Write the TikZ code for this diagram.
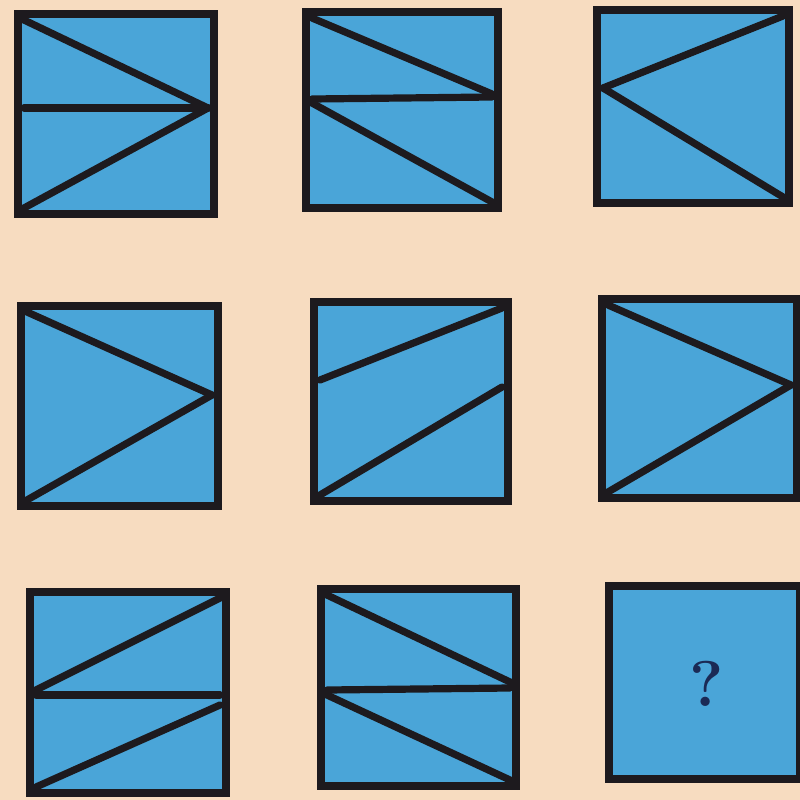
\documentclass[tikz,border=0pt]{standalone}
\usetikzlibrary{positioning}

\definecolor{paper}{HTML}{F7DCC0}
\definecolor{tileblue}{HTML}{4AA5D8}
\definecolor{ink}{HTML}{1D1A1E}
\definecolor{quill}{HTML}{1B2A55}

\begin{document}
\begin{tikzpicture}[
    x=0.25mm, y=-0.25mm,
    tile/.style={fill=tileblue},
    frame/.style={draw=ink, line width=2.1mm},
    bar/.style={draw=ink, line width=1.8mm, line cap=round},
    querymark/.style={font=\fontsize{46}{46}\selectfont\bfseries, text=quill}
]

% background sheet
\fill[paper] (0,0) rectangle (800,800);
\useasboundingbox (0,0) rectangle (800,800);

% ============ ROW 1 ============
% tile 1: two rays + middle bar meeting at right
\fill[tile] (18,14) rectangle (214,214);
\draw[bar] (24,20) -- (208,108);
\draw[bar] (24,108) -- (208,108);
\draw[bar] (24,208) -- (208,108);
\draw[frame] (18,14) rectangle (214,214);

% tile 2: zigzag with middle bar
\fill[tile] (306,12) rectangle (498,208);
\draw[bar] (312,18) -- (492,94);
\draw[bar] (312,99) -- (492,97);
\draw[bar] (312,103) -- (492,202);
\draw[frame] (306,12) rectangle (498,208);

% tile 3: two rays meeting at left
\fill[tile] (597,10) rectangle (789,203);
\draw[bar] (783,16) -- (603,88);
\draw[bar] (603,88) -- (783,197);
\draw[frame] (597,10) rectangle (789,203);

% ============ ROW 2 ============
% tile 4
\fill[tile] (21,306) rectangle (218,506);
\draw[bar] (27,312) -- (212,395);
\draw[bar] (27,500) -- (212,395);
\draw[frame] (21,306) rectangle (218,506);

% tile 5
\fill[tile] (314,302) rectangle (508,501);
\draw[bar] (320,380) -- (502,308);
\draw[bar] (320,495) -- (502,387);
\draw[frame] (314,302) rectangle (508,501);

% tile 6
\fill[tile] (602,299) rectangle (797,498);
\draw[bar] (608,305) -- (791,385);
\draw[bar] (608,492) -- (791,385);
\draw[frame] (602,299) rectangle (797,498);

% ============ ROW 3 ============
% tile 7
\fill[tile] (30,592) rectangle (226,793);
\draw[bar] (36,690) -- (220,598);
\draw[bar] (36,695) -- (220,695);
\draw[bar] (36,787) -- (220,705);
\draw[frame] (30,592) rectangle (226,793);

% tile 8
\fill[tile] (321,589) rectangle (516,786);
\draw[bar] (327,595) -- (510,682);
\draw[bar] (327,690) -- (510,688);
\draw[bar] (327,695) -- (510,780);
\draw[frame] (321,589) rectangle (516,786);

% tile 9: the missing one
\fill[tile] (609,586) rectangle (800,779);
\draw[frame] (609,586) rectangle (800,779);
\node[querymark] (query) at (707,684) {?};

\end{tikzpicture}
\end{document}
